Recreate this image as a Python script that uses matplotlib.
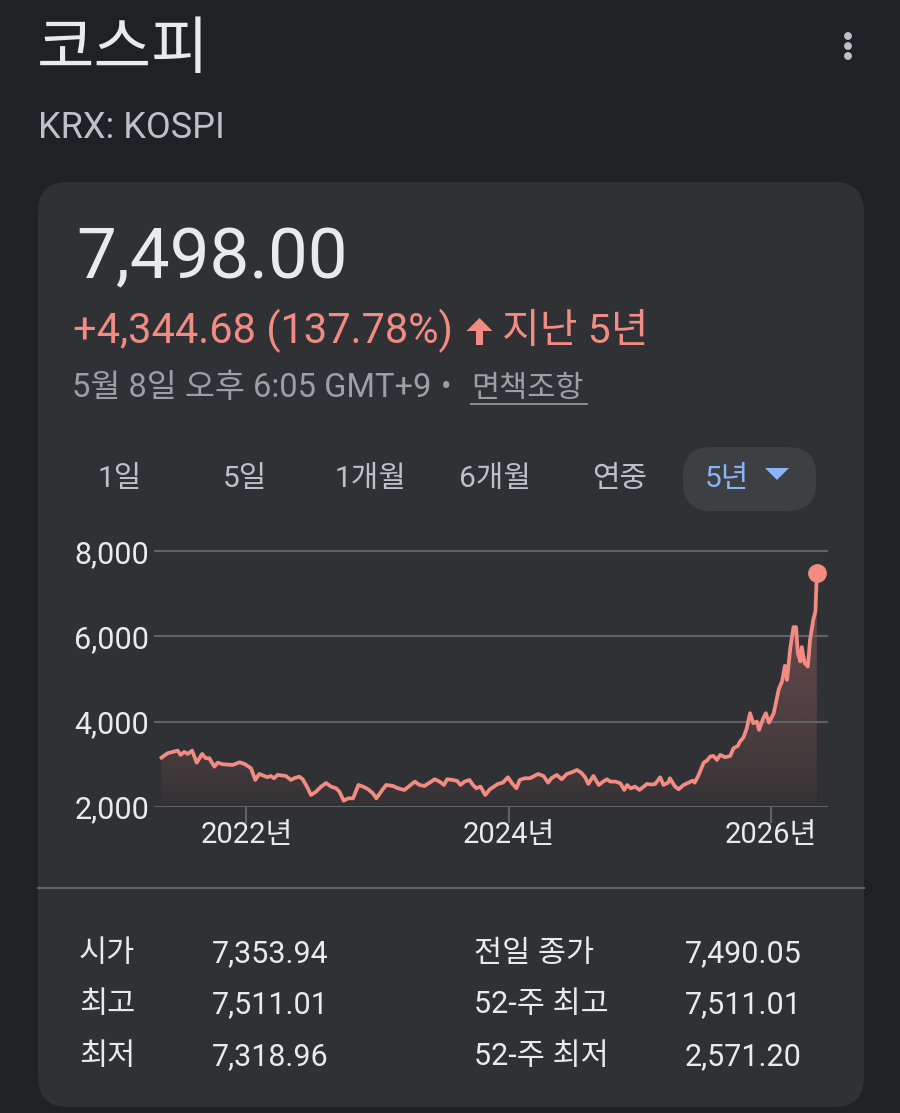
import numpy as np
import pandas as pd
import matplotlib
matplotlib.use("Agg")
import matplotlib.pyplot as plt
import matplotlib.dates as mdates
from matplotlib.patches import FancyBboxPatch, Polygon, Circle
from matplotlib.transforms import blended_transform_factory

# ---------------- data ----------------
dates = [
    "2021-05-10", "2021-05-27", "2021-06-10", "2021-06-24", "2021-07-02", "2021-07-12",
    "2021-07-22", "2021-08-03", "2021-08-16", "2021-08-31", "2021-09-10", "2021-09-20",
    "2021-10-04", "2021-10-13", "2021-10-27", "2021-11-24", "2021-12-13", "2021-12-27",
    "2022-01-14", "2022-01-26", "2022-02-06", "2022-02-20", "2022-03-01", "2022-03-10",
    "2022-03-19", "2022-03-29", "2022-04-21", "2022-05-05", "2022-05-14", "2022-05-28",
    "2022-06-07", "2022-06-21", "2022-06-30", "2022-07-14", "2022-07-28", "2022-08-11",
    "2022-08-25", "2022-09-08", "2022-09-17", "2022-09-29", "2022-10-11", "2022-10-25",
    "2022-11-09", "2022-11-22", "2022-12-06", "2022-12-19", "2022-12-29", "2023-01-11",
    "2023-01-25", "2023-02-13", "2023-02-27", "2023-03-17", "2023-03-31", "2023-04-15",
    "2023-04-28", "2023-05-12", "2023-05-26", "2023-06-09", "2023-06-23", "2023-07-05",
    "2023-07-14", "2023-07-30", "2023-08-11", "2023-08-20", "2023-08-31", "2023-09-14",
    "2023-09-24", "2023-10-03", "2023-10-15", "2023-10-28", "2023-11-10", "2023-12-02",
    "2023-12-16", "2023-12-30", "2024-01-12", "2024-01-23", "2024-02-01", "2024-02-15",
    "2024-02-29", "2024-03-09", "2024-03-23", "2024-04-07", "2024-04-20", "2024-04-29",
    "2024-05-14", "2024-05-28", "2024-06-11", "2024-06-25", "2024-07-09", "2024-07-21",
    "2024-08-01", "2024-08-10", "2024-08-24", "2024-09-08", "2024-09-20", "2024-10-01",
    "2024-10-10", "2024-10-24", "2024-11-07", "2024-11-18", "2024-11-26", "2024-12-06",
    "2024-12-18", "2024-12-30", "2025-01-11", "2025-01-20", "2025-02-03", "2025-02-12",
    "2025-02-26", "2025-03-07", "2025-03-20", "2025-03-25", "2025-04-07", "2025-04-18",
    "2025-05-02", "2025-05-16", "2025-05-27", "2025-06-02", "2025-06-13", "2025-06-27",
    "2025-07-06", "2025-07-15", "2025-07-24", "2025-08-03", "2025-08-12", "2025-08-26",
    "2025-09-09", "2025-09-18", "2025-09-30", "2025-10-06", "2025-10-16", "2025-10-25",
    "2025-11-03", "2025-11-12", "2025-11-22", "2025-11-28", "2025-12-10", "2025-12-17",
    "2025-12-26", "2026-01-08", "2026-01-22", "2026-01-31", "2026-02-08", "2026-02-14",
    "2026-02-23", "2026-03-04", "2026-03-11", "2026-03-16", "2026-03-23", "2026-03-27",
    "2026-04-04", "2026-04-13", "2026-04-19", "2026-04-28", "2026-05-04", "2026-05-08",
]
values = [
    3153, 3257, 3287, 3318, 3216, 3287,
    3240, 3318, 3035, 3240, 3139, 3139,
    2941, 3035, 2998, 2981, 3044, 3005,
    2903, 2628, 2769, 2722, 2691, 2722,
    2668, 2746, 2722, 2628, 2668, 2706,
    2645, 2433, 2275, 2353, 2471, 2555,
    2471, 2432, 2353, 2140, 2196, 2196,
    2510, 2471, 2409, 2315, 2196, 2353,
    2510, 2487, 2432, 2393, 2487, 2589,
    2510, 2487, 2565, 2644, 2589, 2510,
    2644, 2628, 2604, 2510, 2589, 2628,
    2510, 2433, 2471, 2275, 2410, 2534,
    2565, 2691, 2534, 2433, 2628, 2668,
    2668, 2706, 2769, 2722, 2565, 2668,
    2746, 2644, 2769, 2808, 2863, 2800,
    2691, 2534, 2722, 2510, 2589, 2644,
    2589, 2589, 2550, 2393, 2510, 2432,
    2471, 2393, 2471, 2534, 2520, 2534,
    2691, 2510, 2565, 2668, 2487, 2408,
    2510, 2565, 2612, 2565, 2746, 3035,
    3082, 3177, 3193, 3099, 3216, 3162,
    3193, 3374, 3428, 3530, 3633, 3844,
    4197, 3962, 4000, 3805, 4080, 4197,
    3977, 4197, 4762, 4942, 5311, 4981,
    5727, 6221, 6221, 5610, 5412, 5751,
    5374, 5294, 5922, 6393, 6590, 7498,
]
y_ticks = [2000, 4000, 6000, 8000]
y_tick_labels = ["2,000", "4,000", "6,000", "8,000"]
x_tick_dates = ["2022-01-01", "2024-01-01", "2026-01-01"]
x_tick_labels = ["2022년", "2024년", "2026년"]

title = "코스피"
ticker = "KRX: KOSPI"
price = "7,498.00"
change = "+4,344.68 (137.78%)"
period = "지난 5년"
timestamp = "5월 8일 오후 6:05 GMT+9"
disclaimer = "면책조항"
tabs = ["1일", "5일", "1개월", "6개월", "연중", "5년"]
stat_labels_left = ["시가", "최고", "최저"]
stat_values_left = ["7,353.94", "7,511.01", "7,318.96"]
stat_labels_right = ["전일 종가", "52-주 최고", "52-주 최저"]
stat_values_right = ["7,490.05", "7,511.01", "2,571.20"]

# ---------------- style ----------------
BG = "#202124"
CARD = "#303134"
WHITE = "#e8eaed"
GRAY = "#9aa0a6"
LGRAY = "#bdc1c6"
RED = "#f28b82"
BLUE = "#8ab4f8"
PILL = "#3c4043"
GRID = "#5f6368"

plt.rcParams["font.family"] = ["Roboto", "Noto Sans CJK KR"]

W, H = 900, 1113
fig = plt.figure(figsize=(W / 100, H / 100), dpi=100, facecolor=BG)

bg = fig.add_axes([0, 0, 1, 1])
bg.set_xlim(0, W)
bg.set_ylim(H, 0)
bg.axis("off")


def txt(x, y, s, size, color, ha="left", family=None, **kw):
    kwargs = dict(fontsize=size, color=color, ha=ha, va="baseline")
    if family is not None:
        kwargs["family"] = family
    kwargs.update(kw)
    return bg.text(x, y, s, **kwargs)


# header
txt(37, 68, title, 45, WHITE, family=["Noto Sans CJK KR"])
txt(38, 138, ticker, 26, LGRAY)
for yy in (36, 46, 56):
    bg.add_patch(Circle((848, yy), 3.2, color=LGRAY))

# card
bg.add_patch(FancyBboxPatch((38, 182), 826, 925,
                            boxstyle="round,pad=0,rounding_size=30",
                            fc=CARD, ec="none"))

txt(76, 278, price, 51, WHITE)
txt(73, 343, change, 30, RED)
bg.add_patch(Polygon([(476, 345), (476, 331), (466.5, 331), (479.5, 318),
                      (492.5, 331), (483, 331), (483, 345)],
                     closed=True, fc=RED, ec="none"))
txt(502, 343, period, 29.5, RED)

txt(72, 397, timestamp, 23.5, GRAY)
txt(446, 396, "•", 22, GRAY, ha="center")
txt(471, 397, disclaimer, 22, GRAY)
bg.plot([471, 587], [403.5, 403.5], color=GRAY, lw=1.2)

# tabs
bg.add_patch(FancyBboxPatch((683, 447), 133, 64,
                            boxstyle="round,pad=0,rounding_size=28",
                            fc=PILL, ec="none"))
tab_x = [120, 245, 370, 495, 620, 727]
for i, (tx, lab) in enumerate(zip(tab_x, tabs)):
    col = BLUE if i == len(tabs) - 1 else LGRAY
    txt(tx, 487, lab, 21.5, col, ha="center")
bg.add_patch(Polygon([(765, 468), (789, 468), (777, 480)], closed=True,
                     fc=BLUE, ec="none"))

# divider
bg.plot([38, 864], [888, 888], color=GRID, lw=1.5)

# stats
rows_y = [962, 1013, 1065]
for yy, l1, v1, l2, v2 in zip(rows_y, stat_labels_left, stat_values_left,
                              stat_labels_right, stat_values_right):
    txt(79, yy, l1, 22, WHITE)
    txt(212, yy, v1, 22, WHITE)
    txt(474, yy, l2, 22, WHITE)
    txt(685, yy, v2, 22, WHITE)

# ---------------- chart ----------------
ax_left, ax_right, ax_top, ax_bottom = 154, 828, 545, 807.1
ax = fig.add_axes([ax_left / W, 1 - ax_bottom / H,
                   (ax_right - ax_left) / W, (ax_bottom - ax_top) / H])
ax.set_facecolor("none")

x = mdates.date2num(pd.to_datetime(dates))
y = np.array(values, dtype=float)

xmin = mdates.date2num(pd.Timestamp("2021-04-19"))
xmax = mdates.date2num(pd.Timestamp("2026-06-08"))
ymin, ymax = 1990, 8150

# gradient fill
poly = ax.fill_between(x, y, ymin, color="none", lw=0)
ramp = np.linspace(0, 1, 256)
rgba = np.zeros((256, 1, 4))
rgba[..., :3] = matplotlib.colors.to_rgb(RED)
rgba[:, 0, 3] = 0.33 * ramp ** 0.7
img = ax.imshow(rgba, extent=[xmin, xmax, ymin, 8000], origin="lower",
                aspect="auto", zorder=1, interpolation="bilinear")
img.set_clip_path(poly.get_paths()[0], transform=ax.transData)

ax.plot(x, y, color=RED, lw=2.7, solid_joinstyle="round", zorder=3)
ax.plot(x[-1], y[-1], "o", ms=12.5, color=RED, zorder=4)

ax.set_xlim(xmin, xmax)
ax.set_ylim(ymin, ymax)

ax.set_yticks(y_ticks)
ax.set_yticklabels(y_tick_labels)
ax.tick_params(axis="y", length=0, pad=3.4, labelsize=22, labelcolor=WHITE)
ax.grid(axis="y", color=GRID, lw=1.5, zorder=0)

xt = mdates.date2num(pd.to_datetime(x_tick_dates))
ax.set_xticks(xt)
ax.set_xticklabels([""] * len(xt))
ax.tick_params(axis="x", length=11.5, width=1.5, color=GRID, direction="out")
for s in ax.spines.values():
    s.set_visible(False)

trans = blended_transform_factory(ax.transData, bg.transData)
for t, lab in zip(xt, x_tick_labels):
    ax.text(t, 843, lab, transform=trans, ha="center", va="baseline",
            fontsize=21, color=WHITE)

fig.savefig("out.png", dpi=100, facecolor=BG)
